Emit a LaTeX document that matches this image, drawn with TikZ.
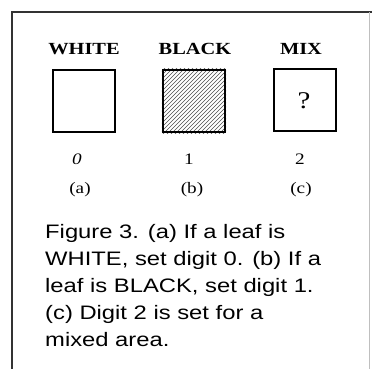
\documentclass[tikz,border=0pt]{standalone}
\usepackage{fontspec}
\setmainfont{Liberation Serif}[FakeStretch=1.2]
\newfontfamily\capfont{Liberation Sans}[FakeStretch=1.22]
\begin{document}
\begin{tikzpicture}[x=1pt,y=-1pt,
  leafbox/.style={draw=black,line width=2.4pt,minimum width=62pt,minimum height=62pt,inner sep=0pt},
  toplabel/.style={font=\fontsize{17}{19}\selectfont\bfseries,anchor=base,inner sep=0pt},
  digitlabel/.style={font=\fontsize{16}{18}\selectfont,anchor=base,inner sep=0pt},
  caption/.style={font=\capfont\fontsize{19.5}{27}\selectfont,align=left,anchor=base west,inner sep=0pt}]
\useasboundingbox (0,0) rectangle (372,368);
\fill[white] (0,0) rectangle (372,368);
% frame
\draw[line width=1.3pt,black!80] (12,380) -- (12,12) -- (380,12);
\draw[line width=0.6pt,black!25] (369,12) -- (369,380);
% labels
\node[toplabel] (tw) at (84,54) {WHITE};
\node[toplabel] (tb) at (195,54) {BLACK};
\node[toplabel] (tm) at (301,54) {MIX};
% boxes
\node[leafbox] (bw) at (84,101) {};
\node[leafbox] (bb) at (194,101) {};
\node[leafbox] (bm) at (305,100) {};
\begin{scope}
\clip (bb.south west) rectangle (bb.north east);
\foreach \i in {-70,-66,...,70} {
  \draw[line width=0.6pt,black!70] (194+\i-40,141) -- (194+\i+40,61);
}
\end{scope}
\node[leafbox] at (bb) {};
\node[font=\fontsize{24}{26}\selectfont,inner sep=0pt] (q) at (304,101) {?};
% digits
\node[digitlabel] (d0) at (77,164) {\itshape 0};
\node[digitlabel] (d1) at (189,164) {1};
\node[digitlabel] (d2) at (300,164) {2};
\node[digitlabel] (la) at (80,193) {(a)};
\node[digitlabel] (lb) at (192,193) {(b)};
\node[digitlabel] (lc) at (301,193) {(c)};
% caption (anchor is the baseline of the last line)
\node[caption] (cap) at (45,346) {Figure 3. (a) If a leaf is\\WHITE, set digit 0. (b) If a\\leaf is BLACK, set digit 1.\\(c) Digit 2 is set for a\\mixed area.};
\end{tikzpicture}
\end{document}
